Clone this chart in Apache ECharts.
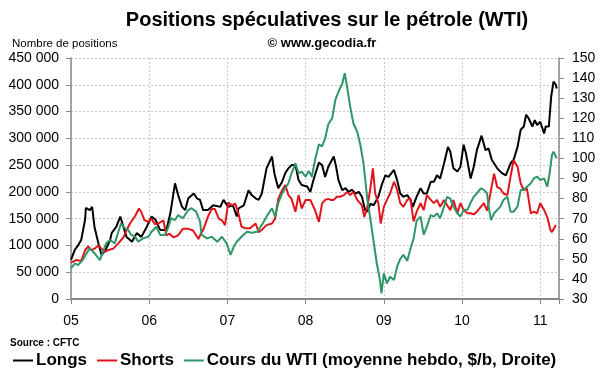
<!DOCTYPE html>
<html><head><meta charset="utf-8">
<script src="https://cdn.jsdelivr.net/npm/echarts@6/dist/echarts.min.js"></script>
<style>html,body{margin:0;padding:0;background:#fff}#c{width:600px;height:372px}</style>
</head><body><div id="c"></div>
<script>
const yearTicks = ['05','06','07','08','09','10','11'];
const seriesNames = ['Longs','Shorts','Cours du WTI (moyenne hebdo, $/b, Droite)'];
// [decimal year, thousands of positions]
const longs = [[2005.00,73],[2005.05,92],[2005.09,100],[2005.13,110],[2005.18,148],[2005.19,170],[2005.24,166],[2005.27,172],[2005.30,135],[2005.35,104],[2005.39,82],[2005.44,91],[2005.50,110],[2005.52,123],[2005.58,135],[2005.63,154],[2005.71,116],[2005.78,107],[2005.84,123],[2005.90,116],[2005.97,135],[2006.03,154],[2006.08,148],[2006.14,129],[2006.22,129],[2006.27,160],[2006.33,216],[2006.37,194],[2006.42,172],[2006.46,166],[2006.50,188],[2006.57,197],[2006.61,188],[2006.65,185],[2006.69,166],[2006.75,166],[2006.82,175],[2006.91,172],[2006.95,185],[2007.01,172],[2007.07,175],[2007.12,154],[2007.14,169],[2007.21,175],[2007.27,203],[2007.31,194],[2007.36,188],[2007.40,185],[2007.44,197],[2007.50,244],[2007.57,266],[2007.60,235],[2007.65,207],[2007.70,219],[2007.74,235],[2007.78,244],[2007.82,250],[2007.87,250],[2007.91,222],[2007.95,213],[2008.02,210],[2008.06,200],[2008.10,222],[2008.17,255],[2008.21,250],[2008.25,228],[2008.29,247],[2008.36,266],[2008.39,247],[2008.42,222],[2008.47,203],[2008.51,207],[2008.55,200],[2008.59,204],[2008.64,197],[2008.68,200],[2008.72,191],[2008.76,166],[2008.79,163],[2008.83,178],[2008.87,175],[2008.93,191],[2008.98,216],[2009.02,231],[2009.06,228],[2009.13,241],[2009.17,222],[2009.21,197],[2009.25,191],[2009.30,194],[2009.34,185],[2009.37,172],[2009.42,191],[2009.47,207],[2009.51,197],[2009.55,197],[2009.60,219],[2009.64,219],[2009.68,231],[2009.72,225],[2009.77,253],[2009.82,284],[2009.85,275],[2009.89,244],[2009.94,238],[2009.98,247],[2010.02,288],[2010.05,272],[2010.11,225],[2010.15,247],[2010.19,278],[2010.25,305],[2010.30,278],[2010.34,281],[2010.38,260],[2010.45,244],[2010.51,235],[2010.56,231],[2010.62,253],[2010.66,260],[2010.71,284],[2010.75,316],[2010.79,322],[2010.82,344],[2010.85,338],[2010.90,322],[2010.93,334],[2010.96,325],[2011.00,331],[2011.05,309],[2011.07,322],[2011.11,322],[2011.14,378],[2011.17,406],[2011.20,400],[2011.21,393]];
const shorts = [[2005.00,68],[2005.07,73],[2005.13,71],[2005.18,91],[2005.22,98],[2005.26,91],[2005.30,94],[2005.35,100],[2005.39,94],[2005.43,88],[2005.47,91],[2005.54,94],[2005.60,103],[2005.67,115],[2005.71,128],[2005.75,140],[2005.82,155],[2005.87,169],[2005.90,162],[2005.94,147],[2005.99,144],[2006.03,150],[2006.07,140],[2006.11,140],[2006.18,147],[2006.22,119],[2006.26,122],[2006.31,115],[2006.37,119],[2006.43,131],[2006.50,131],[2006.56,128],[2006.63,112],[2006.67,125],[2006.69,129],[2006.76,157],[2006.80,168],[2006.84,168],[2006.89,150],[2006.93,147],[2006.97,138],[2007.01,180],[2007.06,175],[2007.10,178],[2007.14,160],[2007.18,135],[2007.23,132],[2007.29,132],[2007.36,141],[2007.40,125],[2007.44,129],[2007.50,138],[2007.57,141],[2007.61,150],[2007.65,187],[2007.70,203],[2007.74,213],[2007.78,194],[2007.82,187],[2007.87,163],[2007.91,194],[2007.95,169],[2008.00,185],[2008.06,185],[2008.12,166],[2008.17,144],[2008.21,178],[2008.25,185],[2008.29,187],[2008.32,185],[2008.36,185],[2008.40,191],[2008.44,191],[2008.49,194],[2008.53,200],[2008.57,194],[2008.61,200],[2008.66,185],[2008.72,175],[2008.75,153],[2008.79,172],[2008.83,209],[2008.86,244],[2008.89,197],[2008.93,179],[2008.96,141],[2009.00,172],[2009.04,185],[2009.08,197],[2009.13,219],[2009.17,204],[2009.21,179],[2009.25,172],[2009.30,185],[2009.34,188],[2009.38,145],[2009.42,163],[2009.47,179],[2009.51,166],[2009.55,194],[2009.60,185],[2009.64,179],[2009.68,185],[2009.72,172],[2009.77,185],[2009.81,175],[2009.85,166],[2009.89,185],[2009.94,160],[2009.98,179],[2010.02,166],[2010.07,160],[2010.11,160],[2010.15,158],[2010.19,163],[2010.24,172],[2010.28,179],[2010.32,165],[2010.36,195],[2010.41,234],[2010.45,209],[2010.49,206],[2010.53,197],[2010.58,194],[2010.62,228],[2010.66,259],[2010.71,247],[2010.75,216],[2010.79,203],[2010.83,206],[2010.88,160],[2010.92,163],[2010.96,160],[2011.00,179],[2011.05,166],[2011.09,153],[2011.13,129],[2011.15,125],[2011.20,138]];
// [decimal year, $ per barrel]
const wti = [[2005.00,45.3],[2005.05,47.8],[2005.09,46.9],[2005.15,49.4],[2005.20,52.8],[2005.24,55.2],[2005.30,52.8],[2005.37,49.4],[2005.41,53.6],[2005.45,57.7],[2005.50,59.4],[2005.56,57.7],[2005.60,62.7],[2005.64,67.7],[2005.69,65.2],[2005.73,64.4],[2005.77,61.9],[2005.82,61],[2005.86,58.5],[2005.92,60.2],[2005.99,61],[2006.03,63.5],[2006.09,66],[2006.14,61.9],[2006.20,61.9],[2006.24,65.2],[2006.28,70.2],[2006.33,69.3],[2006.37,71.8],[2006.43,70.2],[2006.50,74.3],[2006.54,75.2],[2006.60,73.5],[2006.65,68.5],[2006.67,61.9],[2006.74,60.2],[2006.80,61],[2006.87,58.5],[2006.93,61],[2006.99,57.7],[2007.04,51.9],[2007.08,56],[2007.12,58.5],[2007.18,61],[2007.25,63.5],[2007.31,63],[2007.38,63.5],[2007.44,66.9],[2007.50,71],[2007.57,75.2],[2007.61,71],[2007.65,77.7],[2007.70,82.6],[2007.74,85.1],[2007.78,87.6],[2007.82,92.6],[2007.87,97.6],[2007.91,92.6],[2007.95,93.4],[2008.00,90.9],[2008.04,93.8],[2008.08,90.9],[2008.12,99.2],[2008.17,107],[2008.21,106],[2008.25,110],[2008.29,117],[2008.34,120],[2008.38,129.1],[2008.42,133.2],[2008.47,137.4],[2008.50,142.4],[2008.53,135.7],[2008.57,125.8],[2008.61,117.5],[2008.66,113.3],[2008.70,106.7],[2008.74,97.6],[2008.79,79.3],[2008.83,69.3],[2008.87,58.5],[2008.91,47.8],[2008.95,39.5],[2008.97,32.8],[2009.00,42.8],[2009.04,37.8],[2009.08,41.1],[2009.13,39.5],[2009.17,46.1],[2009.21,50],[2009.25,52],[2009.30,49],[2009.34,55],[2009.38,60],[2009.42,69],[2009.47,71],[2009.51,62],[2009.55,66],[2009.60,71.8],[2009.64,71],[2009.68,72.7],[2009.72,70.2],[2009.77,76],[2009.81,80.9],[2009.85,80],[2009.89,76],[2009.94,72.7],[2009.98,71],[2010.02,74.4],[2010.07,74.4],[2010.11,78],[2010.15,80.9],[2010.19,82.6],[2010.24,85.1],[2010.28,84.3],[2010.32,82.6],[2010.34,76],[2010.37,69.3],[2010.41,72.7],[2010.45,74.4],[2010.49,76],[2010.53,79.3],[2010.58,80.9],[2010.62,73.5],[2010.66,73.5],[2010.71,76],[2010.75,84.3],[2010.79,84.3],[2010.83,85.9],[2010.88,87.6],[2010.92,90.1],[2010.96,90.9],[2011.00,89.2],[2011.05,90.1],[2011.09,85.9],[2011.12,92.6],[2011.15,101.7],[2011.17,103.4],[2011.21,100.1]];

const FONT = 'Liberation Sans, Arial, sans-serif';
const chart = echarts.init(document.getElementById('c'), null, {renderer:'canvas'});
const fmtThousands = v => String(v).replace(/\B(?=(\d{3})+(?!\d))/g, ' ');
const colors = ['#000000','#e0141c','#2f9668'];
const toPos = arr => arr.map(p => [p[0], p[1]*1000]);

chart.setOption({
  animation:false,
  color: colors,
  textStyle:{fontFamily:FONT},
  title:[
    {text:'Positions spéculatives sur le pétrole (WTI)', left:322, top:5, textAlign:'center',
     textStyle:{fontSize:20, fontWeight:'bold', color:'#000', fontFamily:FONT}},
    {text:'© www.gecodia.fr', left:317, top:32, textAlign:'center',
     textStyle:{fontSize:13, fontWeight:'bold', color:'#000', fontFamily:FONT}},
    {text:'Nombre de positions', left:7, top:33,
     textStyle:{fontSize:11.5, fontWeight:'normal', color:'#000', fontFamily:FONT}},
    {text:'Source : CFTC', left:5, top:333,
     textStyle:{fontSize:10, fontWeight:'bold', color:'#000', fontFamily:FONT}}
  ],
  legend:{
    left:8, top:347, itemGap:10, itemWidth:20, itemHeight:2, icon:'rect',
    textStyle:{fontSize:17, fontWeight:'bold', color:'#000', fontFamily:FONT, padding:[0,0,0,-2]},
    data: seriesNames
  },
  grid:{left:71, right:41, top:58, bottom:73},
  xAxis:{
    type:'value', min:2005, max:2011.24, interval:1,
    axisLine:{lineStyle:{color:'#888', width:2}},
    axisTick:{length:5, lineStyle:{color:'#888'}},
    axisLabel:{fontSize:14, color:'#000', margin:15, fontFamily:FONT,
      formatter: v => Number.isInteger(v) ? yearTicks[v-2005] : ''},
    splitLine:{show:true, lineStyle:{color:'#c8c8c8', type:[2,2], width:1}}
  },
  yAxis:[
    {type:'value', min:0, max:450000, interval:50000,
     axisLine:{show:true, lineStyle:{color:'#888', width:1.5}},
     axisTick:{show:true, length:5, lineStyle:{color:'#888'}},
     axisLabel:{fontSize:14, color:'#000', margin:12, fontFamily:FONT, formatter: fmtThousands},
     splitLine:{show:true, lineStyle:{color:'#c8c8c8', type:[2,2], width:1}}},
    {type:'value', min:30, max:150, interval:10, position:'right',
     axisLine:{show:true, lineStyle:{color:'#888', width:1.5}},
     axisTick:{show:true, length:5, lineStyle:{color:'#888'}},
     axisLabel:{fontSize:14, color:'#000', margin:13, fontFamily:FONT},
     splitLine:{show:false}}
  ],
  series:[
    {name:seriesNames[0], type:'line', yAxisIndex:0, data:toPos(longs), showSymbol:false, symbol:'none',
     lineStyle:{width:2, color:colors[0]}},
    {name:seriesNames[1], type:'line', yAxisIndex:0, data:toPos(shorts), showSymbol:false, symbol:'none',
     lineStyle:{width:2, color:colors[1]}},
    {name:seriesNames[2], type:'line', yAxisIndex:1, data:wti, showSymbol:false, symbol:'none',
     lineStyle:{width:2, color:colors[2]}}
  ]
});
</script></body></html>
